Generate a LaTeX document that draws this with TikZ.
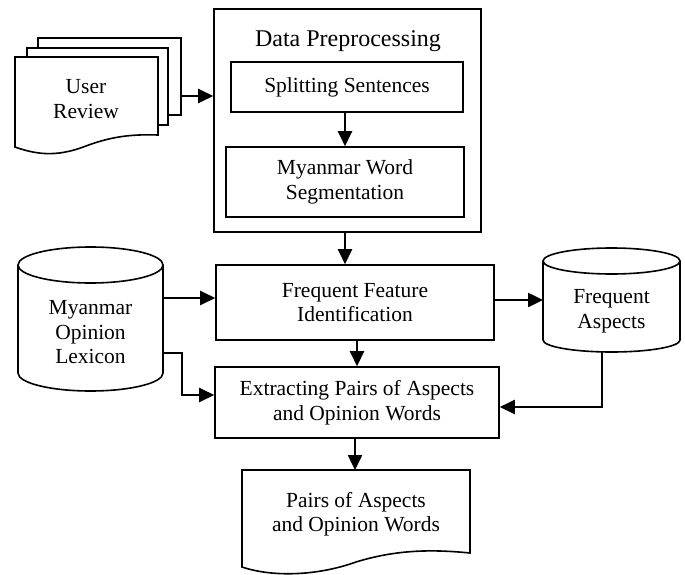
\documentclass[tikz,border=0pt]{standalone}
\usepackage{fontspec}
\setmainfont{Liberation Serif}
\usetikzlibrary{arrows.meta,calc}
\begin{document}
\begin{tikzpicture}[x=1pt,y=-1pt,
  txt/.style={align=center, inner sep=0pt, font=\fontsize{21.5}{24.5}\selectfont},
  box/.style={txt, draw, line width=1.6pt, rectangle},
  ghost/.style={inner sep=0pt, outer sep=0pt},
  shp/.style={draw, line width=1.6pt, fill=white},
  arr/.style={line width=2.5pt, -{Triangle[length=15pt,width=14pt]}}]
\useasboundingbox (0,0) rectangle (685,575);
% Data preprocessing group
\node[box, minimum width=267pt, minimum height=223pt] (dp) at (347.5,120.5) {};
\node[txt, font=\fontsize{24}{27}\selectfont, anchor=base] (dpt) at (348,47) {Data Preprocessing};
\node[box, minimum width=232pt, minimum height=50pt] (ss) at (347,87) {Splitting Sentences};
\node[box, minimum width=238pt, minimum height=70pt] (ws) at (345,182) {Myanmar Word\\Segmentation};
\node[box, minimum width=278pt, minimum height=75pt] (ff) at (355,302.5) {Frequent Feature\\Identification};
\node[box, minimum width=284pt, minimum height=71pt] (ex) at (357,402.5) {Extracting Pairs of Aspects\\and Opinion Words};
% User review (multi-document)
\draw[shp] (38,38) rectangle (181,115);
\draw[shp] (27,48) rectangle (168,125);
\draw[shp] (15,57) -- (15,147) .. controls (40,156) and (60,156) .. (86,146) .. controls (110,137) and (130,134) .. (158,135) -- (158,57) -- cycle;
\node[txt] (ur) at (86,99) {User\\Review};
\coordinate (urE) at (181,96);
% Lexicon cylinder
\draw[shp] (18,265) -- (18,373) arc[start angle=180,end angle=0,x radius=72.5,y radius=18] -- (163,265);
\draw[shp] (90.5,265) ellipse[x radius=72.5,y radius=18];
\node[txt] (lext) at (90.5,332.5) {Myanmar\\Opinion\\Lexicon};
\node[ghost, minimum width=145pt, minimum height=108pt] (lex) at (90.5,319) {};
% Frequent aspects cylinder
\draw[shp] (543,261) -- (543,340) arc[start angle=180,end angle=0,x radius=68.5,y radius=12] -- (680,261);
\draw[shp] (611.5,261) ellipse[x radius=68.5,y radius=13];
\node[txt] (fat) at (611.5,311) {Frequent\\Aspects};
\node[ghost, minimum width=137pt, minimum height=79pt] (fa) at (611.5,300.5) {};
\coordinate (faB) at (602,352);
% Output document
\draw[shp] (242,470) -- (242,567) .. controls (275,578) and (320,575) .. (356,562) .. controls (395,550) and (430,549) .. (470,553) -- (470,470) -- cycle;
\node[txt] (outt) at (356,514) {Pairs of Aspects\\and Opinion Words};
\coordinate (outN) at (355,470);
% Connectors
\draw[arr] (urE) -- (dp.west |- urE);
\draw[arr] (ss.south -| 345,0) -- (ws.north -| 345,0);
\draw[arr] (dp.south -| 345,0) -- (ff.north -| 345,0);
\draw[arr] (lex.east |- 0,298) -- (ff.west |- 0,298);
\draw[arr] (ff.east |- 0,300) -- (fa.west |- 0,300);
\draw[arr] (ff.south -| 357,0) -- (ex.north -| 357,0);
\draw[arr] (lex.east |- 0,353) -- (182,353) |- (ex.west |- 0,395);
\draw[arr] (faB) |- (ex.east |- 0,407);
\draw[arr] (ex.south -| outN) -- (outN);
\end{tikzpicture}
\end{document}
